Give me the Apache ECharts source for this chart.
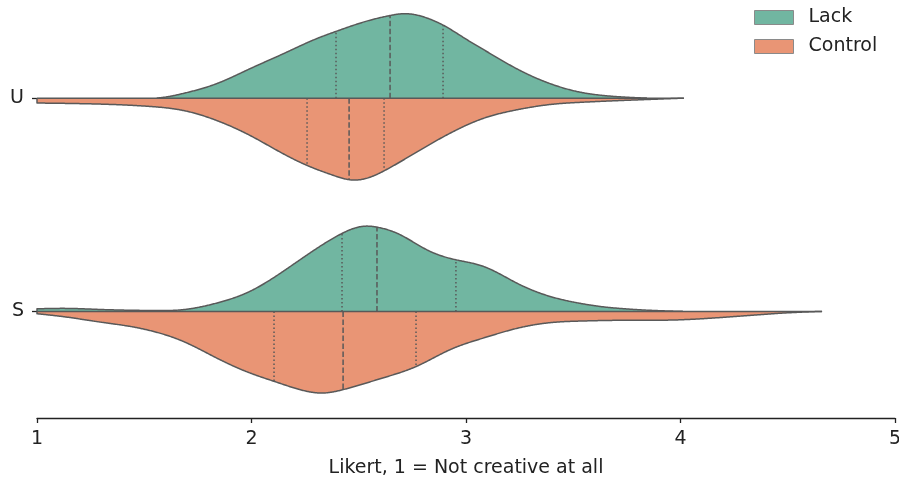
<!DOCTYPE html>
<html>
<head>
<meta charset="utf-8">
<script src="https://cdn.jsdelivr.net/npm/echarts@6/dist/echarts.min.js"></script>
<style>html,body{margin:0;padding:0;background:#fff}#c{width:899px;height:480px}</style>
</head>
<body>
<div id="c"></div>
<script>
const categories = ['U', 'S'];
const seriesNames = ['Lack', 'Control'];
const xTicks = [1, 2, 3, 4, 5];

// density profiles: value on the Likert axis, half-width in category units
const lackUValue = [1.558, 1.60, 1.682, 1.838, 1.993, 2.148, 2.304, 2.397, 2.537, 2.649, 2.708, 2.817, 2.894, 3.003, 3.081, 3.236, 3.392, 3.547, 3.625, 3.704, 3.844];
const lackUWidth = [0, 0.005, 0.022, 0.068, 0.138, 0.208, 0.279, 0.314, 0.361, 0.388, 0.396, 0.376, 0.342, 0.275, 0.228, 0.138, 0.068, 0.025, 0.014, 0.007, 0];
const controlUValue = [1.0, 1.293, 1.527, 1.682, 1.838, 1.993, 2.148, 2.260, 2.381, 2.459, 2.537, 2.622, 2.770, 2.925, 3.081, 3.236, 3.392, 3.547, 3.704, 3.858, 4.016];
const controlUWidth = [0.023, 0.028, 0.039, 0.058, 0.105, 0.175, 0.261, 0.316, 0.362, 0.383, 0.376, 0.339, 0.253, 0.165, 0.095, 0.055, 0.030, 0.019, 0.012, 0.006, 0];
const lackSValue = [1.0, 1.14, 1.293, 1.527, 1.681, 1.838, 1.993, 2.148, 2.304, 2.423, 2.521, 2.590, 2.692, 2.817, 2.952, 3.081, 3.236, 3.392, 3.547, 3.625, 3.704, 3.858, 4.012];
const lackSWidth = [0.012, 0.014, 0.009, 0.004, 0.008, 0.039, 0.094, 0.188, 0.295, 0.366, 0.399, 0.394, 0.360, 0.289, 0.242, 0.211, 0.133, 0.070, 0.035, 0.023, 0.015, 0.005, 0];
const controlSValue = [1.0, 1.14, 1.293, 1.448, 1.527, 1.682, 1.838, 1.993, 2.105, 2.226, 2.334, 2.427, 2.613, 2.769, 2.925, 3.081, 3.236, 3.392, 3.547, 3.704, 3.858, 4.012, 4.170, 4.324, 4.478, 4.660];
const controlSWidth = [0.011, 0.027, 0.050, 0.073, 0.090, 0.141, 0.219, 0.289, 0.328, 0.367, 0.383, 0.367, 0.312, 0.258, 0.180, 0.125, 0.080, 0.053, 0.045, 0.042, 0.042, 0.039, 0.030, 0.019, 0.008, 0];

// quartiles (Q1, median, Q3) and the half-width of the violin at each
const lackQuartiles = [[2.394, 2.646, 2.893], [2.422, 2.585, 2.953]];
const lackQuartileWidths = [[0.314, 0.388, 0.342], [0.366, 0.394, 0.242]];
const controlQuartiles = [[2.259, 2.455, 2.618], [2.105, 2.427, 2.767]];
const controlQuartileWidths = [[0.316, 0.383, 0.339], [0.328, 0.367, 0.258]];

const profiles = {
  Lack: [[lackUValue, lackUWidth], [lackSValue, lackSWidth]],
  Control: [[controlUValue, controlUWidth], [controlSValue, controlSWidth]]
};
const quartiles = {
  Lack: [lackQuartiles, lackQuartileWidths],
  Control: [controlQuartiles, controlQuartileWidths]
};

const colors = { Lack: '#71b6a1', Control: '#e99575' };
const outline = '#595959';
const FONT = 'DejaVu Sans';

// natural cubic spline through the read-off points, used only to draw a smooth outline
function splineFn(xs, ys) {
  const n = xs.length;
  const h = [], M = new Array(n).fill(0);
  for (let i = 0; i < n - 1; i++) h.push(xs[i + 1] - xs[i]);
  if (n > 2) {
    const a = [], b = [], c = [], d = [];
    for (let i = 1; i < n - 1; i++) {
      a.push(h[i - 1]); b.push(2 * (h[i - 1] + h[i])); c.push(h[i]);
      d.push(6 * ((ys[i + 1] - ys[i]) / h[i] - (ys[i] - ys[i - 1]) / h[i - 1]));
    }
    const m = b.length;
    for (let i = 1; i < m; i++) {
      const w = a[i] / b[i - 1];
      b[i] -= w * c[i - 1];
      d[i] -= w * d[i - 1];
    }
    const sol = new Array(m);
    sol[m - 1] = d[m - 1] / b[m - 1];
    for (let i = m - 2; i >= 0; i--) sol[i] = (d[i] - c[i] * sol[i + 1]) / b[i];
    for (let i = 0; i < m; i++) M[i + 1] = sol[i];
  }
  return function (x) {
    let i = 0;
    while (i < n - 2 && x > xs[i + 1]) i++;
    const hi = h[i], A = xs[i + 1] - x, B = x - xs[i];
    return M[i] * A * A * A / (6 * hi) + M[i + 1] * B * B * B / (6 * hi)
      + (ys[i] / hi - M[i] * hi / 6) * A + (ys[i + 1] / hi - M[i + 1] * hi / 6) * B;
  };
}

function halfRenderer(name, sign) {
  return function (params, api) {
    const ci = params.dataIndex;
    const xs = profiles[name][ci][0];
    const ws = profiles[name][ci][1];
    const f = splineFn(xs, ws);
    const x0 = xs[0], x1 = xs[xs.length - 1];
    const steps = Math.ceil((x1 - x0) / 0.004);
    const curve = [];
    for (let k = 0; k <= steps; k++) {
      const x = x0 + (x1 - x0) * k / steps;
      const w = Math.max(0, f(x));
      curve.push(api.coord([x, ci + sign * w]));
    }
    const start = api.coord([x0, ci]);
    const end = api.coord([x1, ci]);
    const fillPts = [start].concat(curve, [end]);
    const strokePts = [start].concat(curve);
    const children = [{
      type: 'polygon',
      shape: { points: fillPts },
      style: { fill: colors[name], stroke: null }
    }, {
      type: 'polyline',
      shape: { points: strokePts },
      style: { fill: null, stroke: outline, lineWidth: 1.5, lineJoin: 'round' }
    }];
    const q = quartiles[name][0][ci];
    const qw = quartiles[name][1][ci];
    for (let k = 0; k < 3; k++) {
      const a = api.coord([q[k], ci]);
      const b = api.coord([q[k], ci + sign * qw[k]]);
      children.push({
        type: 'line',
        shape: { x1: a[0], y1: a[1], x2: b[0], y2: b[1] },
        style: { stroke: outline, lineWidth: 1.5, lineDash: k === 1 ? [5.5, 2.5] : [1.5, 2.5] }
      });
    }
    return { type: 'group', children: children };
  };
}

function baselineRenderer(params, api) {
  const ci = params.dataIndex;
  const la = profiles.Lack[ci][0], lc = profiles.Control[ci][0];
  const lo = Math.min(la[0], lc[0]);
  const hi = Math.max(la[la.length - 1], lc[lc.length - 1]);
  const a = api.coord([lo, ci]);
  const b = api.coord([hi, ci]);
  return {
    type: 'line',
    shape: { x1: a[0], y1: a[1], x2: b[0], y2: b[1] },
    style: { stroke: outline, lineWidth: 1.5 }
  };
}

const chart = echarts.init(document.getElementById('c'), null, { renderer: 'canvas' });
const catData = categories.map((c, i) => [i]);

chart.setOption({
  animation: false,
  backgroundColor: '#fff',
  textStyle: { fontFamily: FONT },
  grid: { left: 37, right: 4, top: -8.5, bottom: 62, outerBoundsMode: 'none', containLabel: false },
  legend: {
    data: seriesNames,
    orient: 'vertical',
    left: 754,
    top: 8,
    itemWidth: 39,
    itemHeight: 14,
    itemGap: 10,
    icon: 'rect',
    selectedMode: false,
    padding: 0,
    itemStyle: { borderColor: '#8a8a8a', borderWidth: 1 },
    textStyle: { fontFamily: FONT, fontSize: 19, color: '#222', padding: [0, 0, 0, 10] }
  },
  xAxis: {
    type: 'value',
    min: xTicks[0],
    max: xTicks[xTicks.length - 1],
    interval: 1,
    name: 'Likert, 1 = Not creative at all',
    nameLocation: 'middle',
    nameGap: 41,
    nameTextStyle: { fontFamily: FONT, fontSize: 19, color: '#222' },
    axisLine: { show: true, onZero: false, lineStyle: { color: '#222', width: 1.3 } },
    axisTick: { show: true, length: 5, lineStyle: { color: '#222', width: 1.3 } },
    axisLabel: { fontFamily: FONT, fontSize: 19, color: '#222', margin: 12 },
    splitLine: { show: false }
  },
  yAxis: [{
    type: 'category',
    data: categories,
    inverse: true,
    axisLine: { show: false },
    axisTick: { show: true, alignWithLabel: true, length: 5, lineStyle: { color: '#222', width: 1.3 } },
    axisLabel: { fontFamily: FONT, fontSize: 19, color: '#222', margin: 13 },
    splitLine: { show: false }
  }, {
    type: 'value',
    min: -0.5,
    max: 1.5,
    inverse: true,
    show: false,
    splitLine: { show: false }
  }],
  series: [{
    name: 'Lack',
    type: 'custom',
    yAxisIndex: 1,
    itemStyle: { color: colors.Lack },
    renderItem: halfRenderer('Lack', -1),
    data: catData,
    z: 2
  }, {
    name: 'Control',
    type: 'custom',
    yAxisIndex: 1,
    itemStyle: { color: colors.Control },
    renderItem: halfRenderer('Control', 1),
    data: catData,
    z: 2
  }, {
    name: 'baseline',
    type: 'custom',
    yAxisIndex: 1,
    renderItem: baselineRenderer,
    data: catData,
    z: 3
  }]
});
</script>
</body>
</html>
